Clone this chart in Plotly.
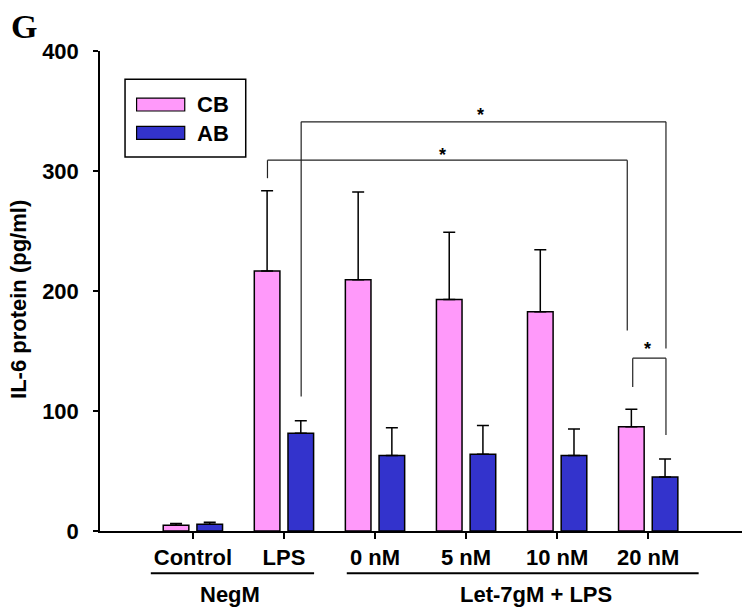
import plotly.graph_objects as go

# values (pg/ml)
groups = ['Control', 'LPS', '0 nM', '5 nM', '10 nM', '20 nM']
series_names = ['CB', 'AB']
cb_mean = [4.7, 216.6, 209.4, 193, 182.8, 86.8]
cb_err = [1.5, 67, 73, 56, 51.6, 14.7]
ab_mean = [5.6, 81.5, 63, 64, 63, 45]
ab_err = [1.6, 10.3, 23, 24, 22, 15]
y_ticks = [0, 100, 200, 300, 400]
super_groups = ['NegM', 'Let-7gM + LPS']

PINK = '#FF99FA'
BLUE = '#3333CC'
FONT = 'Arial, Liberation Sans, sans-serif'


def bold(size):
    return dict(family=FONT, size=size, color='black', weight='bold')


fig = go.Figure()
for name, vals, errs, col in [(series_names[0], cb_mean, cb_err, PINK),
                              (series_names[1], ab_mean, ab_err, BLUE)]:
    fig.add_trace(go.Bar(
        x=groups, y=vals, name=name,
        marker=dict(color=col, line=dict(color='black', width=1.5)),
        error_y=dict(type='data', array=errs, arrayminus=[0] * len(errs), symmetric=False,
                     color='black', thickness=1.5, width=6),
        showlegend=False,
    ))

shapes = []
annotations = []

# significance brackets: (x left, x right, top, left leg end, right leg end, star x, star y)
brackets = [
    (0.819, 4.77, 309, 294, 167, 2.74, 317),
    (1.189, 5.195, 341, 112, 152, 3.16, 350),
    (4.83, 5.195, 144, 120, 80, 4.99, 155),
]
line_style = dict(color='#222222', width=1.2)
for x0, x1, top, yl, yr, sx, sy in brackets:
    shapes.append(dict(type='line', xref='x', yref='y', x0=x0, x1=x1, y0=top, y1=top, line=line_style))
    shapes.append(dict(type='line', xref='x', yref='y', x0=x0, x1=x0, y0=yl, y1=top, line=line_style))
    shapes.append(dict(type='line', xref='x', yref='y', x0=x1, x1=x1, y0=yr, y1=top, line=line_style))
    annotations.append(dict(x=sx, y=sy, xref='x', yref='y', text='*', showarrow=False,
                            xanchor='center', yanchor='middle', yshift=-4, font=bold(18)))

# group underlines and labels below the axis
for (x0, x1), label, lx in zip([(-0.462, 1.331), (1.69, 5.554)], super_groups, [0.41, 3.77]):
    shapes.append(dict(type='line', xref='x', yref='paper', x0=x0, x1=x1, y0=-0.088, y1=-0.088,
                       line=dict(color='black', width=2)))
    annotations.append(dict(x=lx, y=-0.133, xref='x', yref='paper', text=label, showarrow=False,
                            xanchor='center', yanchor='middle', font=bold(22)))

# legend drawn by hand to get the wide swatches
shapes.append(dict(type='rect', xref='paper', yref='paper', x0=0.039, x1=0.227, y0=0.779, y1=0.941,
                   line=dict(color='black', width=1.5), fillcolor='white'))
for name, col, y0, y1, ty in [(series_names[0], PINK, 0.875, 0.902, 0.888),
                              (series_names[1], BLUE, 0.816, 0.843, 0.829)]:
    shapes.append(dict(type='rect', xref='paper', yref='paper', x0=0.057, x1=0.132, y0=y0, y1=y1,
                       line=dict(color='black', width=1.2), fillcolor=col))
    annotations.append(dict(x=0.148, y=ty, xref='paper', yref='paper', text=name, showarrow=False,
                            xanchor='left', yanchor='middle', font=bold(22)))

# panel letter and y title
annotations.append(dict(x=-0.142, y=1.052, xref='paper', yref='paper', text='G', showarrow=False,
                        xanchor='left', yanchor='middle',
                        font=dict(family='Liberation Serif, Times New Roman, serif',
                                  size=34, color='black', weight='bold')))
annotations.append(dict(x=-0.128, y=0.483, xref='paper', yref='paper', text='IL-6 protein (pg/ml)',
                        showarrow=False, textangle=-90, xanchor='center', yanchor='middle',
                        font=bold(22)))

fig.update_layout(
    width=746, height=609,
    margin=dict(l=100, r=4, t=51, b=78),
    plot_bgcolor='white', paper_bgcolor='white',
    barmode='group', bargap=0.26, bargroupgap=0.24,
    shapes=shapes, annotations=annotations,
)
fig.update_xaxes(range=[-1.02, 6.03], showline=True, linecolor='black', linewidth=1.5,
                 ticks='outside', ticklen=6, tickwidth=1.5, tickcolor='black',
                 showgrid=False, zeroline=False, tickfont=bold(22))
fig.update_yaxes(range=[0, 400], tickvals=y_ticks, showline=True, linecolor='black', linewidth=1.5,
                 ticks='outside', ticklen=5, tickwidth=1.5, tickcolor='black',
                 showgrid=False, zeroline=False, ticklabelstandoff=10, tickfont=bold(22))

# drop the default page margin so the 746x609 figure fills the window exactly
fig.write_html("out.html", config={'displayModeBar': False},
               post_script="document.body.style.margin='0';document.body.style.overflow='hidden';")
